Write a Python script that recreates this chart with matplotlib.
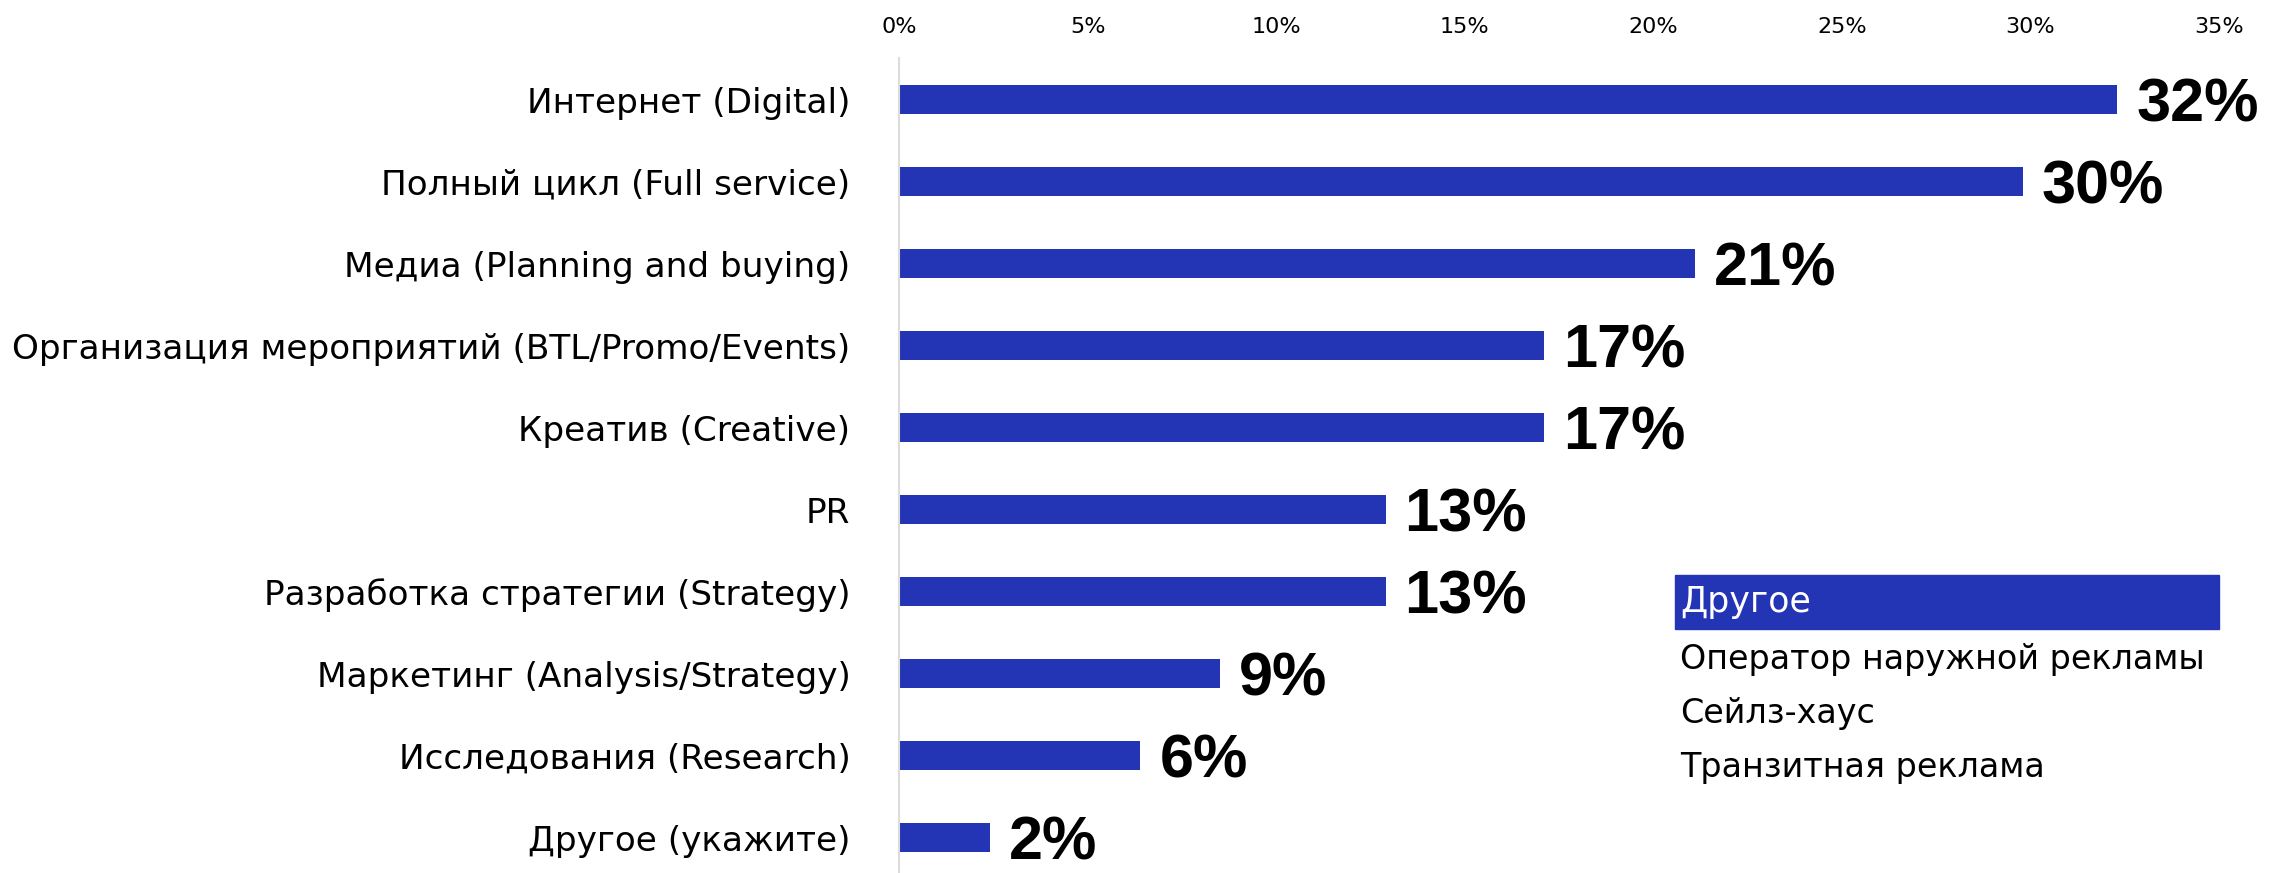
import matplotlib
matplotlib.use('Agg')
import matplotlib.pyplot as plt
from matplotlib.patches import Rectangle

categories = ['Интернет (Digital)', 'Полный цикл (Full service)', 'Медиа (Planning and buying)',
              'Организация мероприятий (BTL/Promo/Events)', 'Креатив (Creative)', 'PR',
              'Разработка стратегии (Strategy)', 'Маркетинг (Analysis/Strategy)',
              'Исследования (Research)', 'Другое (укажите)']
values = [32.3, 29.8, 21.1, 17.1, 17.1, 12.9, 12.9, 8.5, 6.4, 2.4]
value_labels = ['32%', '30%', '21%', '17%', '17%', '13%', '13%', '9%', '6%', '2%']
ticks = [0, 5, 10, 15, 20, 25, 30, 35]
tick_labels = ['0%', '5%', '10%', '15%', '20%', '25%', '30%', '35%']
other_title = 'Другое'
other_items = ['Оператор наружной рекламы', 'Сейлз-хаус', 'Транзитная реклама']

blue = '#2334b4'
W, H = 2274, 873

plt.rcParams['font.family'] = ['DejaVu Sans']
fig = plt.figure(figsize=(W / 100, H / 100), dpi=100)
ax = fig.add_axes([899 / W, 0, (2219 - 899) / W, 1 - 58 / H])

y = list(range(len(categories)))
ax.barh(y, values, height=0.35, color=blue)
ax.set_xlim(0, 35)
ax.set_ylim(9.43, -0.51)

ax.set_yticks(y)
ax.set_yticklabels(categories, fontsize=24.7)
ax.set_xticks(ticks)
ax.set_xticklabels(tick_labels, fontsize=16)
ax.xaxis.tick_top()
ax.tick_params(axis='both', length=0)
ax.tick_params(axis='y', pad=35)
ax.tick_params(axis='x', pad=15)

for s in ['top', 'right', 'bottom']:
    ax.spines[s].set_visible(False)
ax.spines['left'].set_color('#dcdcdc')
ax.spines['left'].set_linewidth(1.5)

for i, (v, lab) in enumerate(zip(values, value_labels)):
    ax.annotate(lab, (v, i), xytext=(19, -22), textcoords='offset pixels',
                ha='left', va='baseline', fontsize=44, fontweight='bold',
                family=['Liberation Sans', 'DejaVu Sans'], color='black')

# box with "other" answers
fig.patches.append(Rectangle((1675 / W, 1 - 629 / H), (2219 - 1675) / W, 54 / H,
                             transform=fig.transFigure, color=blue, zorder=0))
fig.text(1680 / W, 1 - 602 / H, other_title, color='white', fontsize=25,
         ha='left', va='center')
for k, item in enumerate(other_items):
    fig.text(1680 / W, 1 - (660 + 54 * k) / H, item, color='black', fontsize=24,
             ha='left', va='center')

fig.savefig('out.png', dpi=100)
